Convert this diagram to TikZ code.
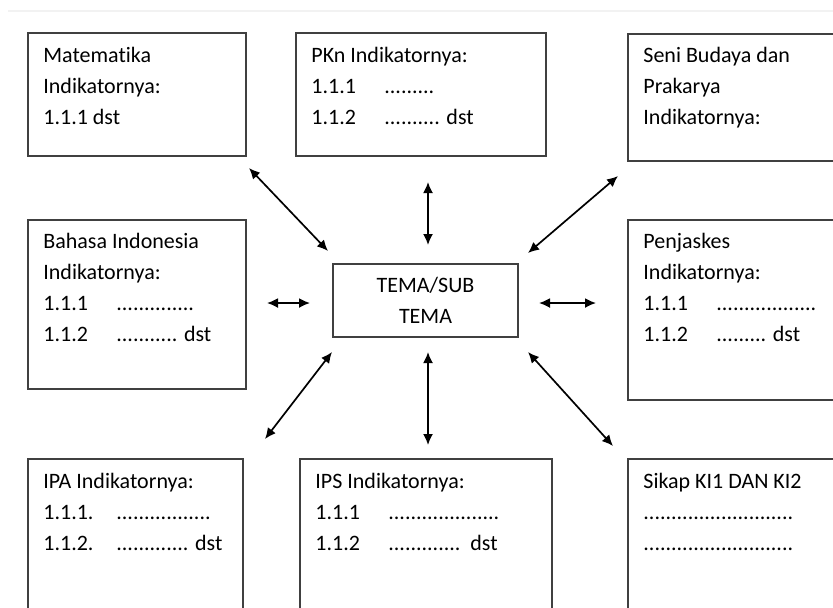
\documentclass[tikz,border=0pt]{standalone}
\usepackage{fontspec}
\setmainfont{Carlito}[Ligatures=NoCommon]
\usepackage{xcolor}
\usepackage{tikz}
\usetikzlibrary{positioning,arrows.meta,calc}

\newcommand{\indik}[2]{\makebox[36.5pt][l]{#1}#2}

\tikzset{
  kotak/.style={draw=black!75, line width=1pt, rectangle, anchor=north west, inner sep=0pt},
  isi/.style={align=left, inner sep=0pt, text=black, font=\fontsize{11}{15.5}\selectfont},
  panah/.style={{Latex[length=5.5pt,width=5pt]}-{Latex[length=5.5pt,width=5pt]}, line width=0.85pt}
}

\begin{document}
\begin{tikzpicture}[x=0.5pt,y=-0.5pt]
\useasboundingbox (0,0) rectangle (833,607);
\clip (0,0) rectangle (833,607);
\draw[black!5, line width=1pt] (8,11) -- (833,11);

\node[kotak, minimum width=109pt, minimum height=61.5pt] (mat) at (27,32) {};
\node[kotak, minimum width=125pt, minimum height=61.5pt] (pkn) at (295,32) {};
\node[kotak, minimum width=110pt, minimum height=63.5pt] (seni) at (627,33) {};
\node[kotak, minimum width=109pt, minimum height=84.5pt] (bahasa) at (27,219) {};
\node[kotak, minimum width=92.5pt, minimum height=36.5pt, align=center, text=black,
  font=\fontsize{11}{15.5}\selectfont] (tema) at (332,263) {TEMA/SUB\\TEMA};
\node[kotak, minimum width=110pt, minimum height=90pt] (penj) at (627,219) {};
\node[kotak, minimum width=107.5pt, minimum height=85pt] (ipa) at (27,458) {};
\node[kotak, minimum width=126pt, minimum height=85pt] (ips) at (299,458) {};
\node[kotak, minimum width=110pt, minimum height=85pt] (sikap) at (627,458) {};

\node[isi, below right=4.15pt and 8pt of mat.north west] (mat-isi)
  {\strut Matematika\\Indikatornya:\\1.1.1 dst};
\node[isi, below right=4.15pt and 8pt of pkn.north west] (pkn-isi)
  {\strut PKn Indikatornya:\\\indik{1.1.1}{.........}\\\indik{1.1.2}{.......... dst}};
\node[isi, below right=3.65pt and 8pt of seni.north west] (seni-isi)
  {\strut Seni Budaya dan\\Prakarya\\Indikatornya:};
\node[isi, below right=3.65pt and 8pt of bahasa.north west] (bahasa-isi)
  {\strut Bahasa Indonesia\\Indikatornya:\\\indik{1.1.1}{..............}\\\indik{1.1.2}{........... dst}};
\node[isi, below right=3.65pt and 8pt of penj.north west] (penj-isi)
  {\strut Penjaskes\\Indikatornya:\\\indik{1.1.1}{..................}\\\indik{1.1.2}{......... dst}};
\node[isi, below right=4.15pt and 8pt of ipa.north west] (ipa-isi)
  {\strut IPA Indikatornya:\\\indik{1.1.1.}{.................}\\\indik{1.1.2.}{............. dst}};
\node[isi, below right=4.15pt and 8pt of ips.north west] (ips-isi)
  {\strut IPS Indikatornya:\\\indik{1.1.1}{....................}\\\indik{1.1.2}{.............\ \ dst}};
\node[isi, below right=4.15pt and 8pt of sikap.north west] (sikap-isi)
  {\strut Sikap KI1 DAN KI2\\...........................\\...........................};

\draw[panah] ($(mat.south east)+(2,11)$) -- ($(tema.north west)+(-4,-12)$);
\draw[panah] ($(pkn.south)+(7,25)$) -- ($(tema.north)+(2.5,-18)$);
\draw[panah] ($(seni.south west)+(-9,14)$) -- ($(tema.north east)+(9,-10)$);
\draw[panah] ($(bahasa.east)+(20,-1.5)$) -- ($(tema.west)+(-22,2.5)$);
\draw[panah] ($(tema.east)+(20,2.5)$) -- ($(penj.west)+(-31,-7)$);
\draw[panah] ($(ipa.north east)+(21,-19)$) -- ($(tema.south west)+(0,14)$);
\draw[panah] ($(tema.south)+(2.5,14)$) -- ($(ips.north)+(2,-13)$);
\draw[panah] ($(tema.south east)+(9,14)$) -- ($(sikap.north west)+(-14,-12)$);
\end{tikzpicture}
\end{document}
